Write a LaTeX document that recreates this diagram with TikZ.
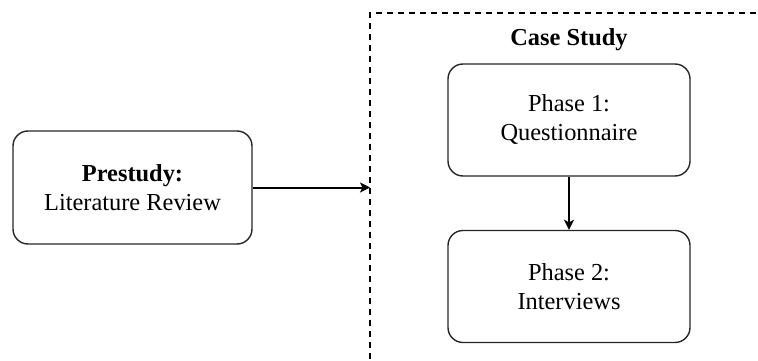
\documentclass[tikz,border=0pt]{standalone}
\usepackage{fontspec}
\setmainfont{LiberationSerif}[Extension=.ttf, UprightFont=*-Regular, BoldFont=*-Bold,
  ItalicFont=*-Italic, BoldItalicFont=*-BoldItalic]
\usetikzlibrary{arrows.meta}
\begin{document}
\begin{tikzpicture}[x=1pt,y=-1pt,
  stage/.style={draw=black!85, line width=1.4pt, rounded corners=15pt,
    minimum width=240pt, minimum height=112pt, align=center, inner sep=0pt,
    font=\fontsize{24.4}{29}\selectfont},
  flow/.style={line width=2pt, -{Stealth[length=10pt,width=10pt,inset=2.5pt]}},
  frame/.style={line width=1.8pt, dash pattern=on 6pt off 5pt}
]
\useasboundingbox (0,0) rectangle (758,361);
% dashed outline of the case study region, open to the right and below
\coordinate (frameTL) at (370,13);
\draw[frame] (370,370) -- (frameTL) -- (770,13);
\node[font=\fontsize{24.4}{29}\selectfont\bfseries] (title) at (569,40) {Case Study};

\node[stage, minimum width=239pt, minimum height=113pt] (pre) at (132.5,187.5)
  {\textbf{Prestudy:}\\Literature Review};
\node[stage, minimum width=242pt] (p1) at (569,120) {Phase 1:\\Questionnaire};
\node[stage, minimum width=242pt] (p2) at (569,286.5) {Phase 2:\\Interviews};

\coordinate (entry) at (frameTL |- pre.east);
\draw[flow] (pre.east) -- (entry);
\draw[flow] (p1.south) -- (p2.north);
\end{tikzpicture}
\end{document}
